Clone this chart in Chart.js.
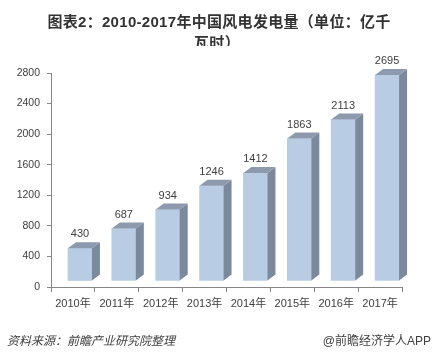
<!DOCTYPE html>
<html><head><meta charset="utf-8">
<script src="https://cdn.jsdelivr.net/npm/chart.js@4.4.0/dist/chart.umd.min.js"></script>
<style>html,body{margin:0;padding:0;background:#fff;}#wrap{width:439px;height:360px;position:relative;}</style>
</head><body><div id="wrap"><canvas id="c" width="439" height="360"></canvas></div>
<script>
const categories = ["2010年","2011年","2012年","2013年","2014年","2015年","2016年","2017年"];
const values = [430, 687, 934, 1246, 1412, 1863, 2113, 2695];
const yTicks = [0, 400, 800, 1200, 1600, 2000, 2400, 2800];
const titleLine1 = "图表2：2010-2017年中国风电发电量（单位：亿千";
const titleLine2 = "瓦时）";
const sourceText = "资料来源：前瞻产业研究院整理";
const brandText = "@前瞻经济学人APP";

const FONT = '"Liberation Sans","Noto Sans CJK SC",sans-serif';
const DX = 7, DY = -6, DEPTH_X = 8, DEPTH_Y = 6;

const bar3d = {
  id: 'bar3d',
  beforeDatasetsDraw(chart) {
    chart.ctx.save();
    chart.ctx.translate(DX, DY);
  },
  afterDatasetsDraw(chart) {
    const ctx = chart.ctx;
    const meta = chart.getDatasetMeta(0);
    meta.data.forEach((el, i) => {
      const p = el.getProps(['x','y','width','base'], true);
      const l = p.x - p.width/2, r = p.x + p.width/2;
      ctx.fillStyle = '#7b899d';
      ctx.beginPath();
      ctx.moveTo(r, p.y); ctx.lineTo(r+DEPTH_X, p.y-DEPTH_Y);
      ctx.lineTo(r+DEPTH_X, p.base-DEPTH_Y); ctx.lineTo(r, p.base);
      ctx.closePath(); ctx.fill();
      ctx.fillStyle = '#8d9aae';
      ctx.beginPath();
      ctx.moveTo(l, p.y); ctx.lineTo(l+DEPTH_X, p.y-DEPTH_Y);
      ctx.lineTo(r+DEPTH_X, p.y-DEPTH_Y); ctx.lineTo(r, p.y);
      ctx.closePath(); ctx.fill();
      ctx.fillStyle = '#404040';
      ctx.font = '11px ' + FONT;
      ctx.textAlign = 'center';
      ctx.textBaseline = 'middle';
      ctx.fillText(String(values[i]), p.x, p.y - 14);
    });
    ctx.restore();
  },
  afterDraw(chart) {
    const ctx = chart.ctx;
    ctx.save();
    ctx.fillStyle = '#333333';
    ctx.font = 'bold 15px ' + FONT;
    try { ctx.letterSpacing = '0.3px'; } catch (e) {}
    ctx.textAlign = 'center';
    ctx.textBaseline = 'middle';
    ctx.fillText(titleLine1, 219, 23);
    ctx.beginPath(); ctx.rect(0, 0, 439, 46); ctx.clip();
    ctx.fillText(titleLine2, 217, 44);
    ctx.restore();
    ctx.save();
    ctx.fillStyle = '#404040';
    ctx.font = 'italic 12px ' + FONT;
    ctx.textBaseline = 'middle';
    ctx.textAlign = 'left';
    ctx.fillText(sourceText, 7, 342);
    ctx.font = '12px ' + FONT;
    ctx.textAlign = 'right';
    ctx.fillText(brandText, 431, 342);
    ctx.restore();
  }
};

new Chart(document.getElementById('c'), {
  type: 'bar',
  data: {
    labels: categories,
    datasets: [{
      data: values,
      backgroundColor: '#b8cce4',
      borderWidth: 0,
      barThickness: 24,
      clip: false
    }]
  },
  options: {
    responsive: false,
    animation: false,
    devicePixelRatio: 1,
    layout: { padding: { left: 0, right: 37, top: 73, bottom: 0 } },
    plugins: { legend: { display: false }, title: { display: false }, tooltip: { enabled: false } },
    scales: {
      x: {
        grid: { display: true, offset: true, drawOnChartArea: false, tickLength: 5, color: '#868686' },
        border: { color: '#868686' },
        ticks: { color: '#404040', font: { size: 11, family: FONT }, padding: 5, maxRotation: 0, autoSkip: false },
        afterFit(s) { s.height = 73; }
      },
      y: {
        min: 0, max: 2800,
        afterBuildTicks(s) { s.ticks = yTicks.map(v => ({ value: v })); },
        grid: { display: true, drawOnChartArea: false, tickLength: 4, color: '#868686' },
        border: { color: '#868686' },
        ticks: { color: '#404040', font: { size: 10.5, family: FONT }, padding: 7, callback: (v) => String(v) },
        afterFit(s) { s.width = 51; }
      }
    }
  },
  plugins: [bar3d]
});
</script></body></html>
